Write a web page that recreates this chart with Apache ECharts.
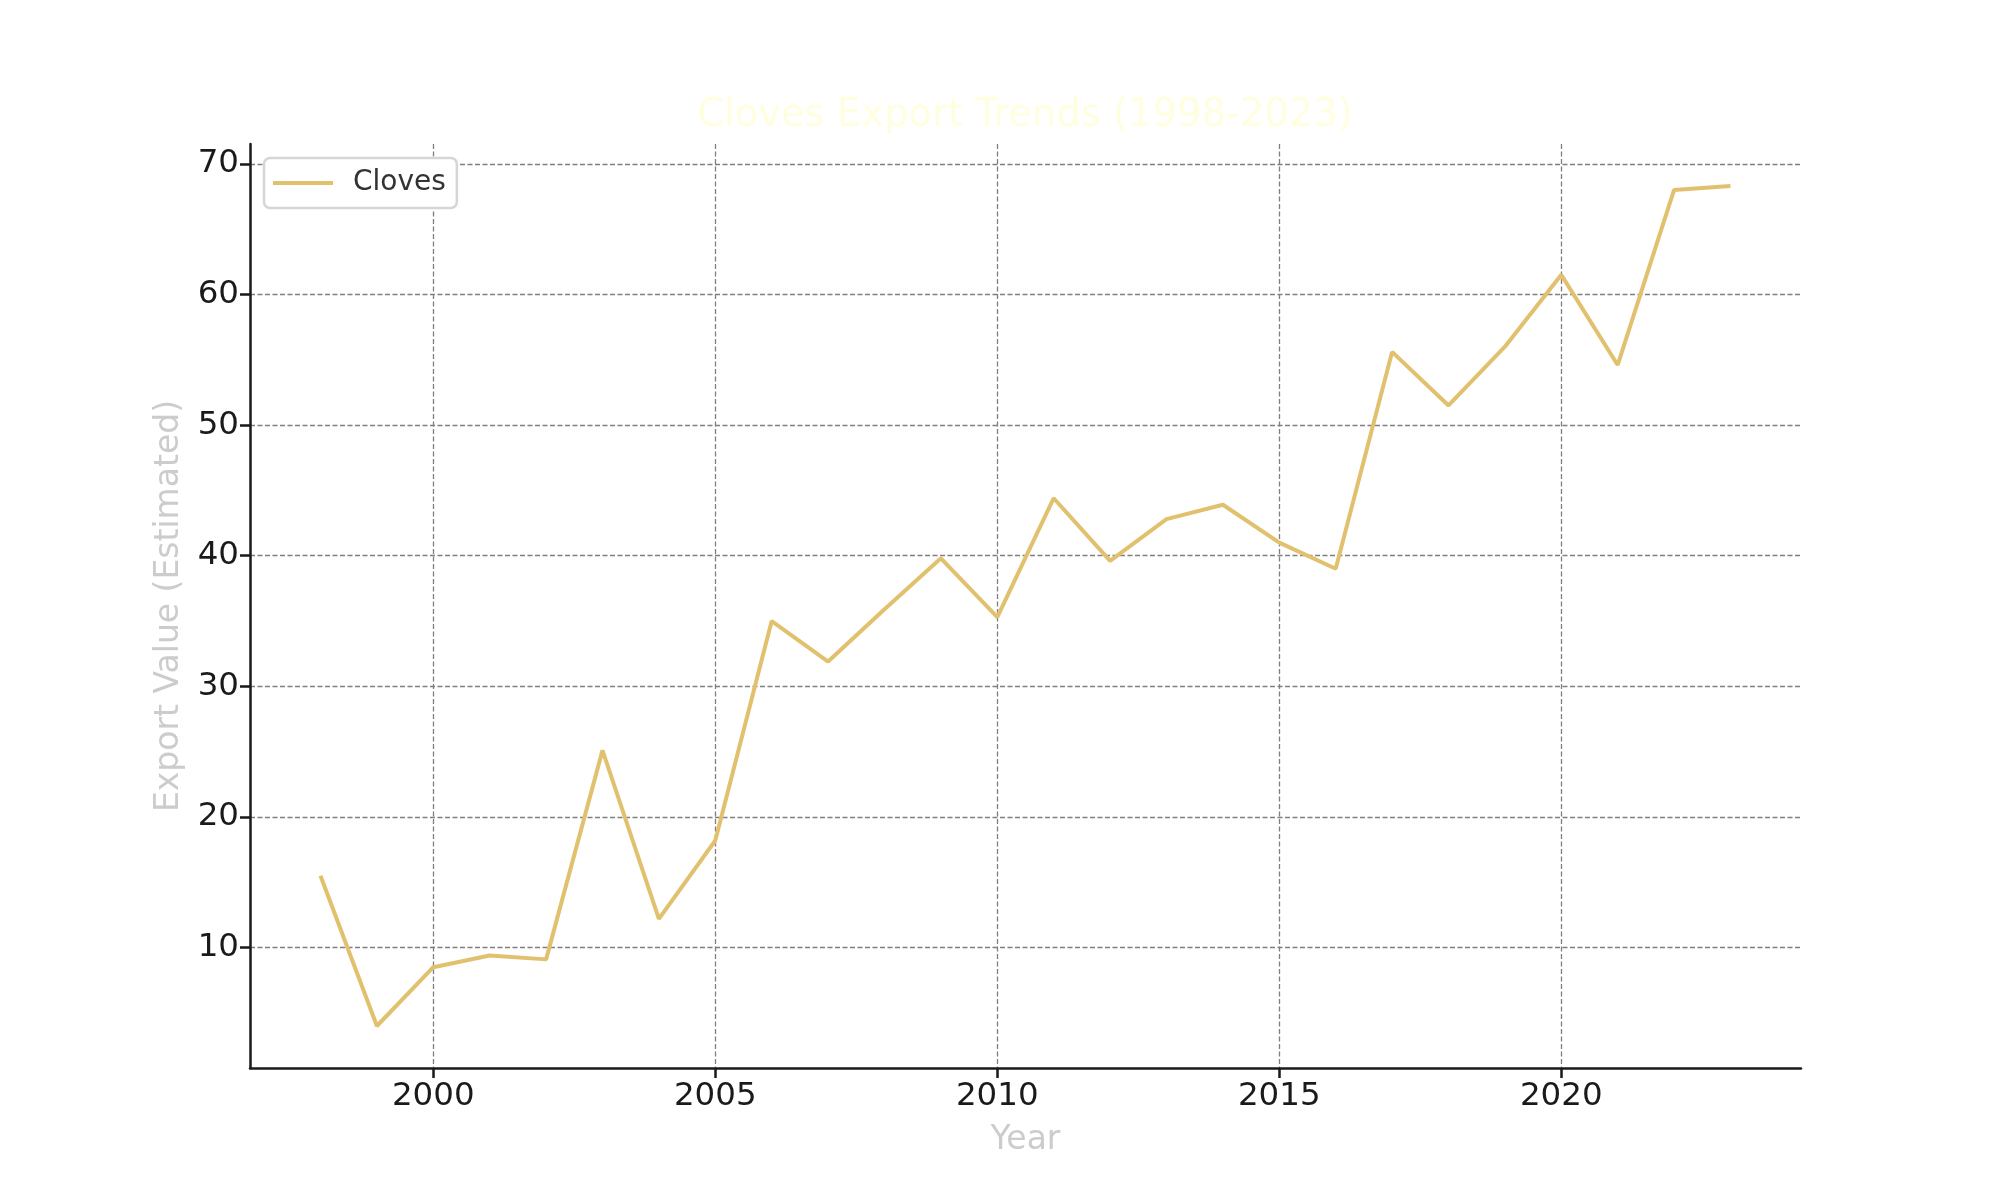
<!DOCTYPE html>
<html>
<head>
<meta charset="utf-8">
<script src="https://cdn.jsdelivr.net/npm/echarts@6/dist/echarts.min.js"></script>
<style>
html,body{margin:0;padding:0;background:#fff;}
#chart{width:2000px;height:1200px;}
</style>
</head>
<body>
<div id="chart"></div>
<script>
const years = [1998,1999,2000,2001,2002,2003,2004,2005,2006,2007,2008,2009,2010,2011,2012,2013,2014,2015,2016,2017,2018,2019,2020,2021,2022,2023];
const cloves = [15.5,4.0,8.5,9.4,9.1,25.1,12.2,18.2,35.0,31.9,35.9,39.8,35.3,44.4,39.6,42.8,43.9,41.0,39.0,55.6,51.5,56.0,61.5,54.6,68.0,68.3];
const xTicks = [2000,2005,2010,2015,2020];
const yTicks = [10,20,30,40,50,60,70];

const chart = echarts.init(document.getElementById('chart'), null, {renderer:'canvas'});
const font = 'DejaVu Sans';
const gridLine = {show:true, lineStyle:{color:'#7f7f7f', width:1.3, type:[5,2.5]}};
chart.setOption({
  backgroundColor:'#ffffff',
  animation:false,
  title:{
    text:'Cloves Export Trends (1998-2023)',
    left:1020, top:91, textAlign:'center',
    textStyle:{fontFamily:font, fontSize:38.5, fontWeight:'normal', color:'#ffffe0'}
  },
  legend:{
    left:264, top:158,
    padding:[11,11,11,9],
    backgroundColor:'#ffffff',
    borderColor:'#d6d6d6', borderWidth:2.5, borderRadius:6,
    itemWidth:60, itemHeight:4, itemGap:10,
    textStyle:{fontFamily:font, fontSize:28, color:'#333333', padding:[0,0,0,15]},
    data:[{name:'Cloves', icon:'rect'}]
  },
  grid:{left:250, top:144, width:1551, height:924, containLabel:false},
  xAxis:{
    type:'value', min:1996.75, max:2024.25, minInterval:5, maxInterval:5,
    name:'Year', nameLocation:'middle', nameGap:56,
    nameTextStyle:{fontFamily:font, fontSize:33, color:'#cccccc'},
    axisLine:{show:true, onZero:false, lineStyle:{color:'#1a1a1a', width:2.5}},
    axisTick:{show:true, inside:false, length:10, customValues:xTicks, lineStyle:{color:'#1a1a1a', width:2.5}},
    axisLabel:{customValues:xTicks, margin:12, fontFamily:font, fontSize:32.5, color:'#1a1a1a',
      formatter:v=>(xTicks.indexOf(v)>=0?String(v):'')},
    splitLine:gridLine
  },
  yAxis:{
    type:'value', min:0.785, max:71.515, minInterval:10, maxInterval:10,
    name:'Export Value (Estimated)', nameLocation:'middle', nameGap:64, nameRotate:90,
    nameTextStyle:{fontFamily:font, fontSize:33, color:'#cccccc'},
    axisLine:{show:true, onZero:false, lineStyle:{color:'#1a1a1a', width:2.5}},
    axisTick:{show:true, inside:false, length:10, customValues:yTicks, lineStyle:{color:'#1a1a1a', width:2.5}},
    axisLabel:{customValues:yTicks, margin:11, fontFamily:font, fontSize:32.5, color:'#1a1a1a',
      formatter:v=>(yTicks.indexOf(v)>=0?String(v):'')},
    splitLine:gridLine
  },
  series:[{
    name:'Cloves', type:'line', symbol:'none', smooth:false,
    data:years.map((y,i)=>[y,cloves[i]]),
    itemStyle:{color:'#e1c16e'},
    lineStyle:{color:'#e1c16e', width:4}
  }]
});
</script>
</body>
</html>
